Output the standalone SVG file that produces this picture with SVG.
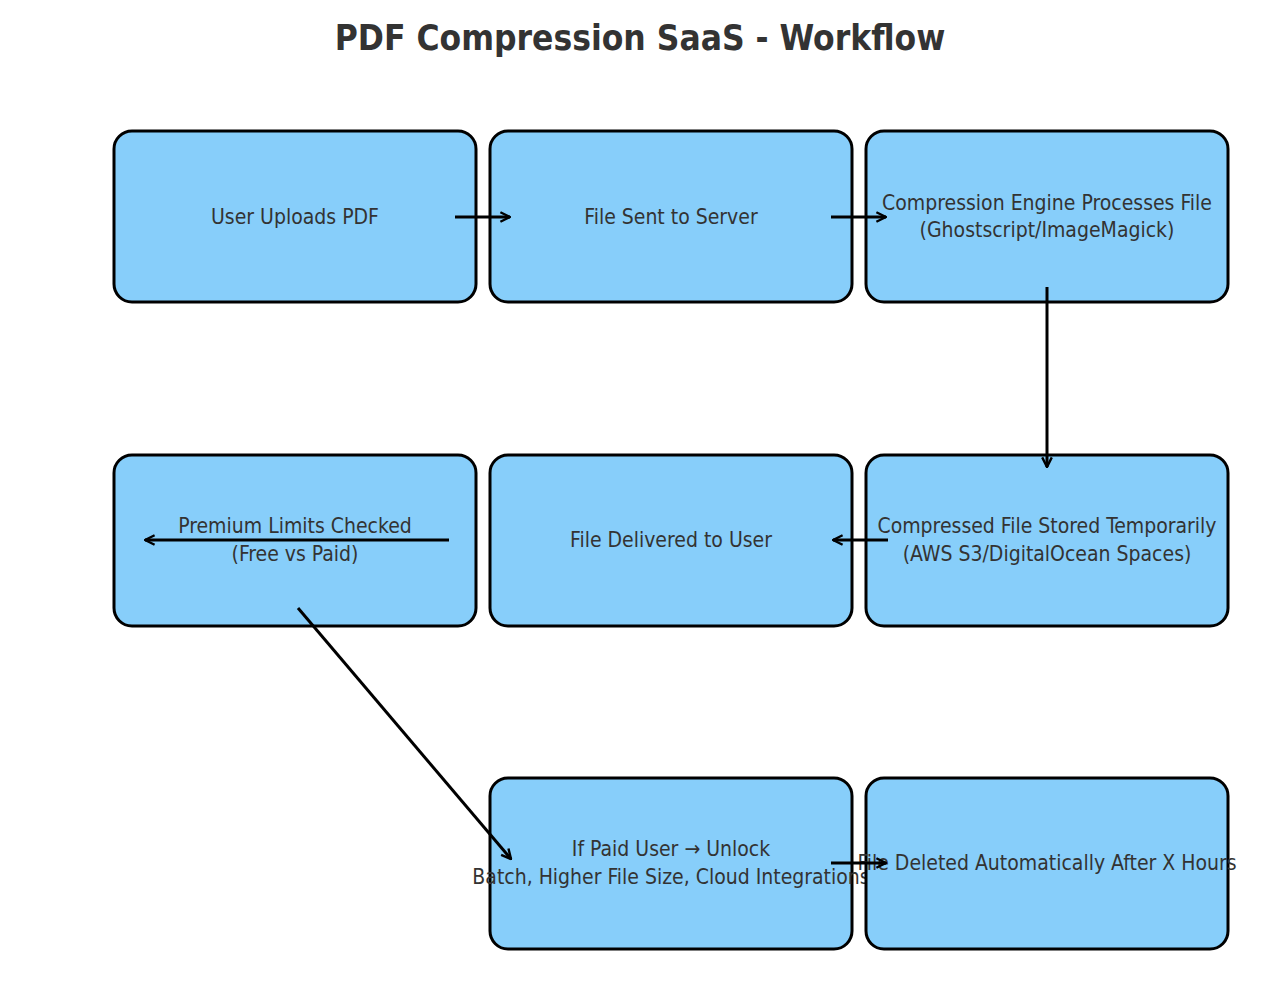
<svg xmlns="http://www.w3.org/2000/svg" width="1280" height="995" viewBox="0 0 1280 995">
<style>
.b{fill:#87CEFA;stroke:#000;stroke-width:3}
.t{font-family:"DejaVu Sans","Liberation Sans",sans-serif;font-stretch:condensed;font-size:21px;fill:#333;text-anchor:middle}
.c line{stroke:#000;stroke-width:3}
</style>
<defs><marker id="a" viewBox="0 0 10 10" refX="9" refY="5" markerWidth="4" markerHeight="4" orient="auto"><path d="M1,1 L9,5 L1,9" fill="none" stroke="#000" stroke-width="2"/></marker></defs>
<rect width="1280" height="995" fill="#fff"/>
<text x="640" y="50" style="font-family:'DejaVu Sans','Liberation Sans',sans-serif;font-stretch:condensed;font-weight:bold;font-size:35px;fill:#333;text-anchor:middle">PDF Compression SaaS - Workflow</text>
<g id="n1"><rect class="b" x="114" y="131" width="362" height="171" rx="18"/><text class="t" x="295" y="224">User Uploads PDF</text></g>
<g id="n2"><rect class="b" x="490" y="131" width="362" height="171" rx="18"/><text class="t" x="671" y="224">File Sent to Server</text></g>
<g id="n3"><rect class="b" x="866" y="131" width="362" height="171" rx="18"/><text class="t" x="1047" y="210">Compression Engine Processes File</text><text class="t" x="1047" y="237">(Ghostscript/ImageMagick)</text></g>
<g id="n4"><rect class="b" x="866" y="455" width="362" height="171" rx="18"/><text class="t" x="1047" y="533">Compressed File Stored Temporarily</text><text class="t" x="1047" y="561">(AWS S3/DigitalOcean Spaces)</text></g>
<g id="n5"><rect class="b" x="490" y="455" width="362" height="171" rx="18"/><text class="t" x="671" y="547">File Delivered to User</text></g>
<g id="n6"><rect class="b" x="114" y="455" width="362" height="171" rx="18"/><text class="t" x="295" y="533">Premium Limits Checked</text><text class="t" x="295" y="561">(Free vs Paid)</text></g>
<g id="n7"><rect class="b" x="490" y="778" width="362" height="171" rx="18"/><text class="t" x="671" y="856">If Paid User → Unlock</text><text class="t" x="671" y="884">Batch, Higher File Size, Cloud Integrations</text></g>
<g id="n8"><rect class="b" x="866" y="778" width="362" height="171" rx="18"/><text class="t" x="1047" y="870">File Deleted Automatically After X Hours</text></g>
<g class="c" marker-end="url(#a)">
<line x1="455" y1="217" x2="510" y2="217" marker-end="url(#a)"/>
<line x1="831" y1="217" x2="886" y2="217" marker-end="url(#a)"/>
<line x1="1047" y1="287" x2="1047" y2="467" marker-end="url(#a)"/>
<line x1="888" y1="540" x2="833" y2="540" marker-end="url(#a)"/>
<line x1="449" y1="540" x2="145" y2="540" marker-end="url(#a)"/>
<line x1="298" y1="608" x2="511" y2="859" marker-end="url(#a)"/>
<line x1="831" y1="863" x2="886" y2="863" marker-end="url(#a)"/>
</g>
</svg>
